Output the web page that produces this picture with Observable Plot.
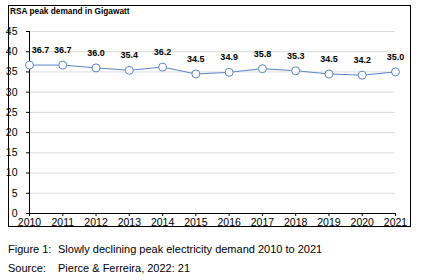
<!DOCTYPE html>
<html><head><meta charset="utf-8">
<script src="https://cdn.jsdelivr.net/npm/d3@7"></script>
<script src="https://cdn.jsdelivr.net/npm/@observablehq/plot@0.6"></script>
<style>
body{margin:0;background:#fff;font-family:"Liberation Sans",Arial,sans-serif;}
#wrap{position:relative;width:423px;height:280px;}
#box{position:absolute;left:8px;top:5px;width:403px;height:222px;border:1px solid #000;box-sizing:border-box;}
#title{position:absolute;left:10px;top:6px;font-size:8.3px;font-weight:bold;color:#000;}
#chart{position:absolute;left:0;top:0;}
.cap{position:absolute;left:8px;font-size:11px;color:#000;}
.cap span{display:inline-block;width:50px;}
</style></head>
<body><div id="wrap"><div id="box"></div><div id="chart"></div><div id="title">RSA peak demand in Gigawatt</div>
<div class="cap" style="top:243px"><span>Figure 1:</span>Slowly declining peak electricity demand 2010 to 2021</div>
<div class="cap" style="top:262px"><span>Source:</span>Pierce &amp; Ferreira, 2022: 21</div>
</div>
<script>
const years = [2010,2011,2012,2013,2014,2015,2016,2017,2018,2019,2020,2021];
const demand = [36.7,36.7,36.0,35.4,36.2,34.5,34.9,35.8,35.3,34.5,34.2,35.0];
const yTicks = [0,5,10,15,20,25,30,35,40,45];
const data = years.map((y,i)=>({year:y, value:demand[i]}));
const blue = "#5b83c9";
const chart = Plot.plot({
  width:423, height:232,
  marginLeft:29, marginRight:28, marginTop:31, marginBottom:19,
  style:{fontFamily:"Liberation Sans, Arial, sans-serif", fontSize:"10.5px", color:"#000", background:"transparent"},
  x:{domain:[2010,2021], label:null},
  y:{domain:[0,45], label:null},
  marks:[
    Plot.gridY(yTicks.filter(t=>t>0), {stroke:"#dcdcdc", strokeOpacity:1}),
    Plot.axisX({ticks:years, tickFormat:d=>String(d), tickSize:3, tickPadding:2, label:null}),
    Plot.axisY({ticks:yTicks, tickSize:3, tickPadding:9, label:null}),
    Plot.ruleX([2010], {stroke:"#000"}),
    Plot.ruleY([0], {stroke:"#000"}),
    Plot.line(data, {x:"year", y:"value", stroke:blue, strokeWidth:1}),
    Plot.dot(data, {x:"year", y:"value", r:4, fill:"#fff", stroke:blue, strokeWidth:1}),
    Plot.text(data.filter(d=>d.year!==2010), {x:"year", y:"value", text:d=>d.value.toFixed(1), dy:-15, fontWeight:"bold", fontSize:9, fill:"#000"}),
    Plot.text(data.filter(d=>d.year===2010), {x:"year", y:"value", text:d=>d.value.toFixed(1), dy:-15, dx:11, fontWeight:"bold", fontSize:9, fill:"#000"})
  ]
});
document.getElementById("chart").appendChild(chart);
</script></body></html>
